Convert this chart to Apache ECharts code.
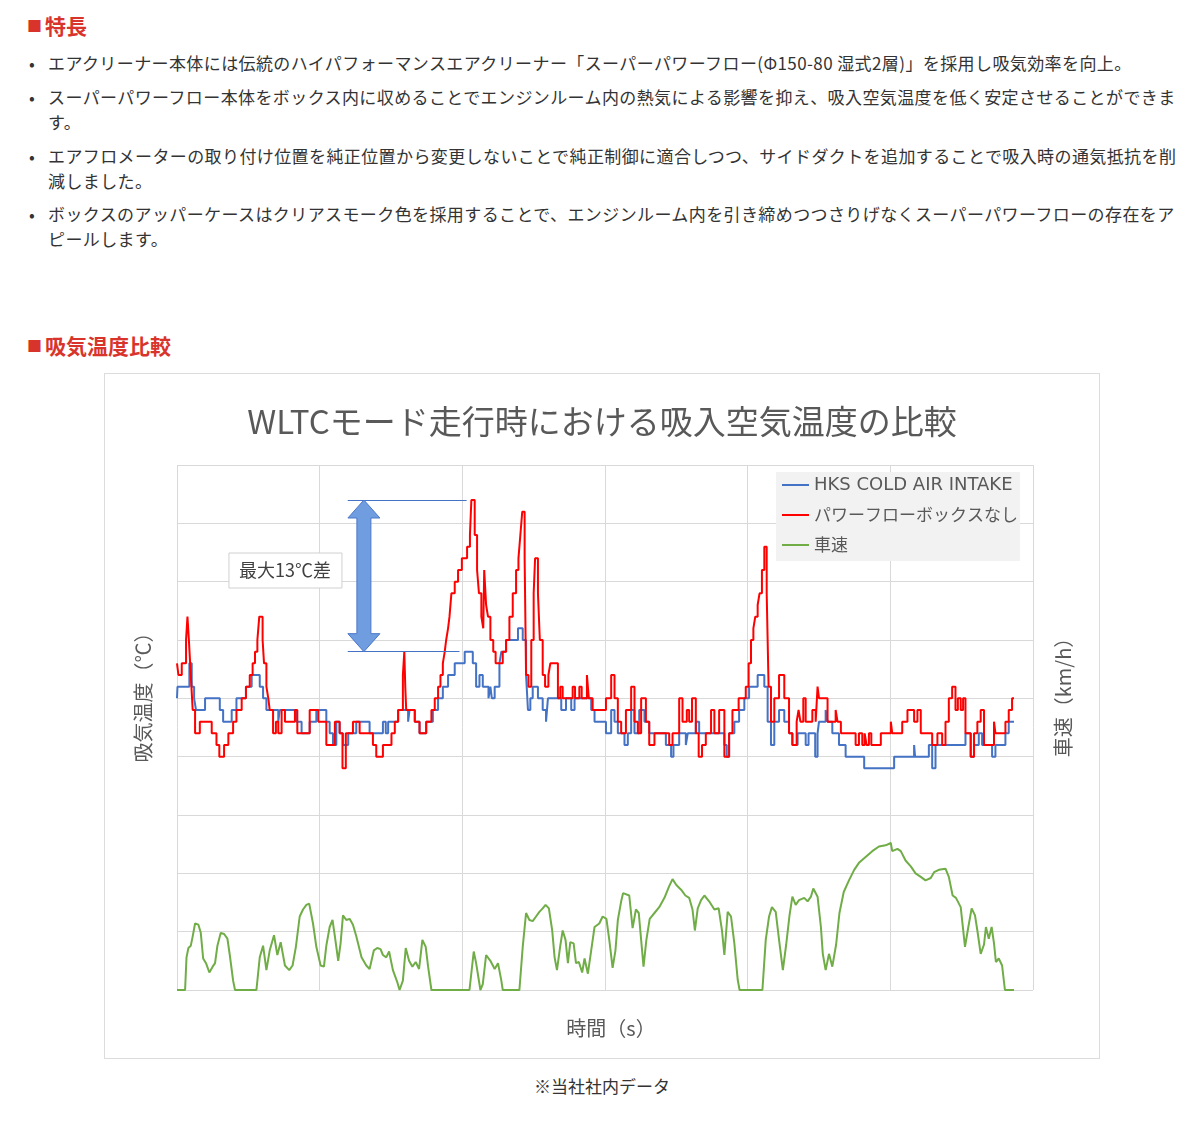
<!DOCTYPE html>
<html lang="ja">
<head>
<meta charset="utf-8">
<title>吸気温度比較</title>
<script src="https://cdn.jsdelivr.net/npm/echarts@6/dist/echarts.min.js"></script>
<style>
  html, body { margin: 0; padding: 0; background: #fff; }
  body { width: 1200px; height: 1125px; position: relative; overflow: hidden;
         font-family: "Noto Sans CJK JP", "Noto Sans", sans-serif; color: #333; }
  .head { position: absolute; left: 27px; font-size: 21px; font-weight: bold; color: #d9342b;
          line-height: 30px; white-space: nowrap; }
  .head .sq { font-size: 15px; vertical-align: 2px; margin-right: 3px; }
  .item { position: absolute; left: 48px; font-size: 17px; line-height: 25px; letter-spacing: 0.4px;
          white-space: nowrap; }
  .item .dot { position: absolute; left: -19px; top: 0; }
  .box { position: absolute; left: 104px; top: 373px; width: 994px; height: 684px; border: 1px solid #dcdcdc; }
  #chart { width: 100%; height: 100%; }
  .note { position: absolute; left: 0; width: 1204px; top: 1073px; text-align: center;
          font-size: 17px; line-height: 25px; }
</style>
</head>
<body>
<div class="head" style="top:10px"><span class="sq">■</span>特長</div>
<div class="item" style="top:50px"><span class="dot">•</span>エアクリーナー本体には伝統のハイパフォーマンスエアクリーナー「スーパーパワーフロー(Φ150-80 湿式2層)」を採用し吸気効率を向上。</div>
<div class="item" style="top:84px"><span class="dot">•</span>スーパーパワーフロー本体をボックス内に収めることでエンジンルーム内の熱気による影響を抑え、吸入空気温度を低く安定させることができま<br>す。</div>
<div class="item" style="top:143px"><span class="dot">•</span>エアフロメーターの取り付け位置を純正位置から変更しないことで純正制御に適合しつつ、サイドダクトを追加することで吸入時の通気抵抗を削<br>減しました。</div>
<div class="item" style="top:201px"><span class="dot">•</span>ボックスのアッパーケースはクリアスモーク色を採用することで、エンジンルーム内を引き締めつつさりげなくスーパーパワーフローの存在をア<br>ピールします。</div>
<div class="head" style="top:330px"><span class="sq">■</span>吸気温度比較</div>
<div class="box"><div id="chart"></div></div>
<div class="note">※当社社内データ</div>

<script>
// 時間 (s) / 温度 (℃) の変化点
const hksTemp = [
  [0,35],[1,36],[26,38],[31,36],[36,35],[40,34],[59,35],[90,34],[97,33],[115,34],[125,35],[145,36],
  [157,37],[174,36],[181,35],[188,34],[213,33],[216,34],[251,33],[262,32],[279,33],[293,34],[314,33],
  [321,32],[328,31],[335,33],[342,32],[349,31],[360,32],[377,33],[405,32],[433,33],[439,32],[444,33],
  [465,34],[486,33],[489,34],[500,33],[510,32],[524,33],[538,34],[549,35],[559,36],[570,37],[584,38],
  [605,39],[622,38],[629,36],[636,37],[643,36],[655,35],[659,36],[662,35],[668,36],[678,38],[682,39],
  [692,40],[717,41],[727,40],[734,37],[738,34],[743,35],[748,36],[759,35],[769,34],[776,33],[780,35],
  [808,34],[818,35],[829,34],[836,35],[871,34],[878,33],[902,32],[913,34],[920,33],[927,32],[941,31],
  [948,32],[955,34],[962,32],[972,34],[983,33],[993,32],[1028,31],[1039,30],[1044,31],[1056,32],
  [1070,31],[1074,32],[1091,33],[1098,32],[1151,31],[1156,30],[1161,32],[1172,33],[1182,34],[1193,35],
  [1203,36],[1221,37],[1235,36],[1242,33],[1249,31],[1256,33],[1266,34],[1277,33],[1287,32],[1294,31],
  [1305,32],[1322,31],[1328,32],[1342,30],[1347,32],[1350,33],[1364,34],[1368,33],[1378,32],[1392,31],
  [1406,30],[1445,29],[1508,30],[1550,31],[1552,30],[1581,31],[1588,29],[1595,31],[1658,32],[1669,30],
  [1676,31],[1686,32],[1693,31],[1714,30],[1721,31],[1742,32],[1749,33],[1760,33]
];
const boxTemp = [
  [0,38],[3,37],[10,38],[19,40],[22,42],[25,40],[29,37],[33,34],[38,32],[48,33],[73,32],[83,31],[89,30],
  [99,31],[108,32],[118,33],[125,34],[136,35],[145,36],[153,37],[159,38],[164,39],[169,40],[171,41],
  [173,42],[180,40],[183,38],[188,36],[192,35],[195,34],[202,32],[208,33],[213,32],[220,34],[227,33],
  [248,34],[253,32],[279,34],[297,33],[314,31],[332,33],[342,32],[348,29],[355,32],[370,33],[384,32],
  [412,31],[419,30],[433,31],[451,32],[458,33],[465,34],[475,37],[478,39],[480,36],[482,34],[500,33],
  [510,32],[524,33],[535,34],[542,35],[549,36],[554,37],[559,38],[563,39],[566,40],[570,41],[573,42],
  [577,44],[584,45],[591,46],[599,47],[610,48],[616,49],[619,52],[626,49],[631,46],[635,44],[640,42],
  [644,41],[646,46],[650,43],[654,42],[659,40],[665,39],[670,38],[685,39],[692,40],[699,42],[706,44],
  [713,46],[718,47],[722,49],[726,51],[731,47],[734,37],[739,36],[745,40],[750,44],[753,47],[759,44],
  [763,40],[769,37],[774,36],[781,37],[785,38],[801,35],[806,36],[811,35],[832,36],[837,35],[846,36],
  [851,35],[862,37],[866,35],[874,34],[902,35],[913,37],[920,35],[927,33],[934,32],[944,34],[955,36],
  [962,33],[969,32],[976,35],[986,33],[993,31],[1004,32],[1035,31],[1042,32],[1056,35],[1063,33],
  [1072,34],[1077,33],[1083,35],[1091,32],[1097,30],[1104,31],[1112,32],[1123,34],[1130,32],[1140,34],
  [1151,30],[1161,32],[1168,34],[1181,35],[1196,36],[1202,38],[1207,40],[1212,41],[1216,42],[1221,43],
  [1225,44],[1230,46],[1235,48],[1240,44],[1244,36],[1249,33],[1256,35],[1266,37],[1277,35],[1287,32],
  [1294,31],[1303,33],[1307,34],[1311,33],[1317,35],[1322,33],[1336,34],[1343,33],[1347,36],[1350,35],
  [1368,33],[1385,34],[1389,33],[1396,32],[1427,31],[1434,32],[1441,31],[1446,32],[1450,31],[1455,32],
  [1460,31],[1480,32],[1501,33],[1504,32],[1525,33],[1536,34],[1550,33],[1557,34],[1564,32],[1588,31],
  [1599,32],[1609,31],[1616,33],[1623,35],[1630,36],[1637,34],[1642,35],[1648,34],[1653,35],[1658,32],
  [1669,30],[1676,32],[1683,33],[1690,34],[1697,31],[1718,33],[1721,32],[1742,33],[1749,34],[1756,35],
  [1760,35]
];
// 時間 (s) / 車速 (km/h)
const speedKmh = [
  [0,0],[17,0],[20,28],[24,36],[29,38],[33,46],[38,57],[45,56],[50,49],[55,27],[61,23],[68,15],[75,20],
  [80,23],[85,38],[92,49],[99,48],[106,44],[111,30],[118,8],[122,0],[167,0],[174,28],[181,38],[188,17],
  [195,34],[204,47],[211,30],[218,41],[227,21],[236,17],[243,21],[250,37],[258,63],[265,69],[272,73],
  [278,74],[286,57],[293,37],[302,21],[309,20],[314,38],[321,54],[327,60],[332,46],[339,25],[344,40],
  [349,64],[356,60],[363,61],[370,56],[377,46],[388,28],[398,21],[405,18],[414,34],[421,36],[428,35],
  [433,30],[440,28],[446,33],[454,17],[463,7],[468,0],[475,8],[481,36],[488,25],[495,20],[502,24],
  [509,18],[516,43],[523,37],[528,20],[535,0],[615,0],[624,33],[629,23],[638,0],[643,5],[650,30],
  [659,25],[668,18],[675,23],[682,8],[685,0],[720,0],[727,37],[734,66],[741,60],[748,59],[755,63],
  [762,67],[769,70],[775,73],[782,70],[789,51],[794,28],[799,17],[806,38],[811,51],[817,43],[822,23],
  [827,41],[834,40],[839,23],[845,24],[852,15],[857,27],[864,14],[871,34],[878,54],[888,57],[895,63],
  [903,61],[909,43],[916,19],[922,34],[927,60],[934,76],[938,83],[951,81],[958,53],[965,69],[971,66],
  [976,43],[981,20],[987,43],[994,61],[1004,66],[1014,71],[1025,79],[1035,89],[1042,95],[1050,90],
  [1060,86],[1069,81],[1077,79],[1084,69],[1089,51],[1095,70],[1102,77],[1109,81],[1119,76],[1130,69],
  [1139,70],[1146,51],[1151,30],[1158,67],[1165,63],[1172,40],[1179,9],[1183,0],[1231,0],[1238,43],
  [1245,63],[1251,71],[1259,67],[1266,43],[1274,17],[1281,39],[1288,64],[1294,80],[1301,73],[1308,77],
  [1319,79],[1326,76],[1333,80],[1338,87],[1347,80],[1354,54],[1358,31],[1364,17],[1371,31],[1378,20],
  [1386,39],[1393,66],[1402,84],[1413,94],[1424,103],[1434,109],[1448,114],[1462,119],[1476,123],
  [1490,124],[1501,126],[1504,119],[1515,121],[1522,119],[1532,111],[1543,106],[1553,100],[1564,97],
  [1574,94],[1585,96],[1592,101],[1602,103],[1616,104],[1623,97],[1631,81],[1638,79],[1648,71],
  [1657,37],[1664,54],[1671,70],[1678,64],[1683,51],[1690,31],[1697,39],[1701,54],[1707,44],[1713,54],
  [1718,40],[1722,24],[1728,27],[1735,21],[1741,0],[1760,0]
];
const seriesNames = ['HKS COLD AIR INTAKE', 'パワーフローボックスなし', '車速'];
// 注記: 最大差の範囲 (℃) と矢印・ラベルの位置 (s, ℃)
const diffRange = [39, 52];
const arrowTime = 393;
const guideUpper = [359, 609];
const guideLower = [359, 594];
const labelPos = [227, 46];

const chart = echarts.init(document.getElementById('chart'));
const font = '"Noto Sans CJK JP", "Noto Sans", sans-serif';
const gridColor = '#d9d9d9';
const nameStyle = { fontSize: 20, color: '#595959' };

chart.setOption({
  animation: false,
  textStyle: { fontFamily: font },
  title: {
    text: 'WLTCモード走行時における吸入空気温度の比較',
    left: 'center', top: 27, padding: 0,
    textStyle: { fontSize: 33, fontWeight: 'normal', color: '#595959', lineHeight: 40, fontFamily: font },
  },
  legend: {
    data: seriesNames,
    orient: 'vertical',
    left: 671, top: 98,
    backgroundColor: '#f2f2f2',
    padding: [3, 2, 6, 6],
    itemGap: 10,
    icon: 'rect', itemWidth: 27, itemHeight: 2,
    formatter: (name) => (name === seriesNames[0] ? '{en|' + name + '}' : '{ja|' + name + '}'),
    textStyle: {
      fontSize: 18, color: '#595959', lineHeight: 20, fontFamily: font,
      rich: {
        en: { fontSize: 18, color: '#595959', lineHeight: 20, fontFamily: '"DejaVu Sans", "Noto Sans", sans-serif' },
        ja: { fontSize: 17, color: '#595959', lineHeight: 20, fontFamily: font },
      },
    },
  },
  grid: { left: 72, top: 91, width: 856, height: 525, outerBoundsMode: 'none' },
  xAxis: {
    type: 'value', min: 0, max: 1800, interval: 300,
    name: '時間（s）', nameLocation: 'middle', nameGap: 28,
    nameTextStyle: { ...nameStyle, padding: [0, 0, 0, 12] },
    axisLine: { show: false }, axisTick: { show: false }, axisLabel: { show: false },
    splitLine: { show: true, lineStyle: { color: gridColor, width: 1 } },
  },
  yAxis: [{
    type: 'value', min: 10, max: 55, interval: 5,
    name: '吸気温度（℃）', nameLocation: 'middle', nameRotate: 90, nameGap: 24,
    nameTextStyle: { ...nameStyle, padding: [0, 0, 0, 70] },
    axisLine: { show: false }, axisTick: { show: false }, axisLabel: { show: false },
    splitLine: { show: true, lineStyle: { color: gridColor, width: 1 } },
  }, {
    type: 'value', min: 0, max: 450, interval: 50, position: 'right',
    name: '車速（km/h）', nameLocation: 'middle', nameRotate: 90, nameGap: 20,
    nameTextStyle: { ...nameStyle, padding: [0, 0, 0, 70] },
    axisLine: { show: false }, axisTick: { show: false }, axisLabel: { show: false },
    splitLine: { show: false },
  }],
  series: [{
    name: seriesNames[0], type: 'line', step: 'end', data: hksTemp,
    showSymbol: false, lineStyle: { color: '#4472c4', width: 2 }, itemStyle: { color: '#4472c4' },
    markLine: {
      silent: true, symbol: 'none', label: { show: false },
      lineStyle: { color: '#4472c4', width: 1, type: 'solid' },
      data: [
        [{ coord: [guideUpper[0], diffRange[1]] }, { coord: [guideUpper[1], diffRange[1]] }],
        [{ coord: [guideLower[0], diffRange[0]] }, { coord: [guideLower[1], diffRange[0]] }],
      ],
    },
  }, {
    name: seriesNames[1], type: 'line', step: 'end', data: boxTemp,
    showSymbol: false, lineStyle: { color: '#ff0000', width: 2 }, itemStyle: { color: '#ff0000' },
  }, {
    name: seriesNames[2], type: 'line', yAxisIndex: 1, data: speedKmh,
    showSymbol: false, lineStyle: { color: '#70ad47', width: 2 }, itemStyle: { color: '#70ad47' },
  }],
});

// 両矢印と「最大13℃差」ラベル
const toPx = (p) => chart.convertToPixel({ xAxisIndex: 0, yAxisIndex: 0 }, p);
const tip = toPx([arrowTime, diffRange[1]]);
const tail = toPx([arrowTime, diffRange[0]]);
const lab = toPx(labelPos);
const cx = tip[0], hw = 16, sw = 7, hh = 18;
chart.setOption({
  graphic: [{
    type: 'polygon',
    shape: { points: [
      [cx, tip[1]], [cx + hw, tip[1] + hh], [cx + sw, tip[1] + hh], [cx + sw, tail[1] - hh],
      [cx + hw, tail[1] - hh], [cx, tail[1]], [cx - hw, tail[1] - hh], [cx - sw, tail[1] - hh],
      [cx - sw, tip[1] + hh], [cx - hw, tip[1] + hh],
    ] },
    style: { fill: '#709ce0', stroke: '#4a78c8', lineWidth: 1 },
    z: 10,
  }, {
    type: 'rect',
    shape: { x: lab[0] - 56, y: lab[1] - 17, width: 113, height: 35 },
    style: { fill: '#fff', stroke: '#d0d0d0', lineWidth: 1 },
    z: 10,
  }, {
    type: 'text',
    x: lab[0], y: lab[1],
    style: { text: '最大13℃差', fontSize: 18, fill: '#404040', align: 'center', verticalAlign: 'middle', fontFamily: font },
    z: 11,
  }],
});
</script>
</body>
</html>
